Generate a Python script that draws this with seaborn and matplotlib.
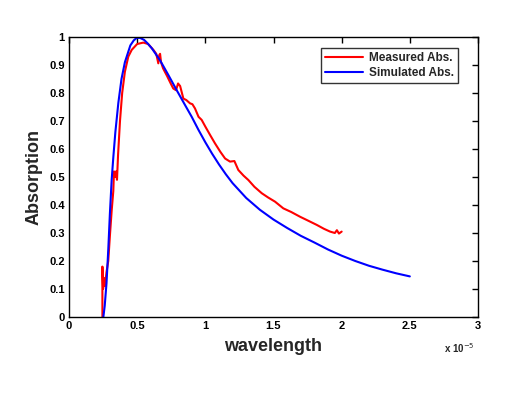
import matplotlib
matplotlib.use("Agg")
import matplotlib.pyplot as plt
import seaborn as sns
import pandas as pd

# wavelength in units of 1e-5
meas_x = [0.245, 0.245, 0.25, 0.255, 0.264, 0.275, 0.288, 0.30, 0.313, 0.325, 0.33, 0.337,
          0.345, 0.352, 0.36, 0.374, 0.39, 0.41, 0.435, 0.46, 0.50, 0.545, 0.58, 0.619,
          0.64, 0.655, 0.662, 0.668, 0.675, 0.69, 0.72, 0.745, 0.765, 0.785, 0.80, 0.815,
          0.839, 0.86, 0.888, 0.905, 0.924, 0.95, 0.973, 1.0, 1.035, 1.071, 1.11, 1.145,
          1.181, 1.213, 1.242, 1.28, 1.316, 1.36, 1.414, 1.46, 1.511, 1.572, 1.63, 1.695,
          1.75, 1.817, 1.87, 1.915, 1.95, 1.965, 1.98, 2.0]
meas_y = [0.0, 0.18, 0.10, 0.14, 0.11, 0.16, 0.20, 0.29, 0.38, 0.45, 0.52, 0.50,
          0.52, 0.49, 0.58, 0.70, 0.80, 0.876, 0.93, 0.954, 0.975, 0.98, 0.975, 0.954,
          0.94, 0.906, 0.935, 0.94, 0.91, 0.888, 0.86, 0.835, 0.816, 0.81, 0.834, 0.825,
          0.78, 0.775, 0.763, 0.76, 0.745, 0.715, 0.704, 0.68, 0.65, 0.62, 0.59, 0.566,
          0.555, 0.557, 0.525, 0.505, 0.489, 0.465, 0.442, 0.427, 0.412, 0.388, 0.375, 0.358,
          0.345, 0.329, 0.315, 0.305, 0.30, 0.31, 0.298, 0.305]

sim_x = [0.252, 0.262, 0.275, 0.288, 0.30, 0.313, 0.325, 0.34, 0.362, 0.385, 0.41, 0.45,
         0.475, 0.497, 0.52, 0.55, 0.575, 0.607, 0.67, 0.729, 0.79, 0.85, 0.9, 0.95,
         1.0, 1.05, 1.1, 1.15, 1.2, 1.3, 1.4, 1.5, 1.6, 1.7, 1.8, 1.9, 2.0,
         2.1, 2.2, 2.3, 2.4, 2.5]
sim_y = [0.0, 0.04, 0.12, 0.24, 0.37, 0.49, 0.57, 0.66, 0.765, 0.85, 0.91, 0.97,
         0.988, 0.997, 0.997, 0.99, 0.978, 0.96, 0.915, 0.864, 0.81, 0.758, 0.715, 0.668,
         0.624, 0.583, 0.545, 0.51, 0.478, 0.425, 0.383, 0.348, 0.318, 0.29, 0.266, 0.241,
         0.219, 0.2, 0.183, 0.169, 0.156, 0.145]

labels = ["Measured Abs.", "Simulated Abs."]
colors = ["#ff0000", "#0000ff"]

sns.set_theme(style="white")
plt.rcParams["font.family"] = ["Liberation Sans", "DejaVu Sans"]

fig = plt.figure(figsize=(5.11, 3.96), dpi=100)
ax = fig.add_axes([69 / 511, 1 - 317 / 396, 409 / 511, 280 / 396])

df_m = pd.DataFrame({"x": meas_x, "y": meas_y})
df_s = pd.DataFrame({"x": sim_x, "y": sim_y})
sns.lineplot(data=df_m, x="x", y="y", sort=False, estimator=None, color=colors[0],
             lw=1.5, label=labels[0], ax=ax)
sns.lineplot(data=df_s, x="x", y="y", sort=False, estimator=None, color=colors[1],
             lw=1.5, label=labels[1], ax=ax)

ax.set_xlim(0, 3)
ax.set_ylim(0, 1)
ax.set_xticks([0, 0.5, 1, 1.5, 2, 2.5, 3])
ax.set_xticklabels(["0", "0.5", "1", "1.5", "2", "2.5", "3"])
ax.set_yticks([i / 10 for i in range(11)])
ax.set_yticklabels(["0", "0.1", "0.2", "0.3", "0.4", "0.5", "0.6", "0.7", "0.8", "0.9", "1"])
ax.tick_params(direction="in", length=4, width=1, top=True, right=True,
               labelsize=8, colors="black", pad=3)
for lab in ax.get_xticklabels() + ax.get_yticklabels():
    lab.set_fontweight("bold")
for sp in ax.spines.values():
    sp.set_color("black")
    sp.set_linewidth(1)

lblfont = dict(fontweight="bold", fontsize=13)
ax.set_xlabel("wavelength", labelpad=5, **lblfont)
ax.set_ylabel("Absorption", labelpad=5, **lblfont)

fig.text(444 / 511, 1 - 348 / 396, "x 10$^{-5}$", fontsize=7, fontweight="bold",
         ha="left", va="center")

leg = ax.legend(loc="upper right", bbox_to_anchor=(1 - 20 / 409, 1 - 11 / 280),
                frameon=True, fancybox=False, fontsize=8.5, borderaxespad=0,
                handlelength=3.2, borderpad=0.35, labelspacing=0.25, handletextpad=0.5)
leg.get_frame().set_edgecolor("black")
leg.get_frame().set_linewidth(1)
for t in leg.get_texts():
    t.set_fontweight("bold")

fig.savefig("out.png", dpi=100)
